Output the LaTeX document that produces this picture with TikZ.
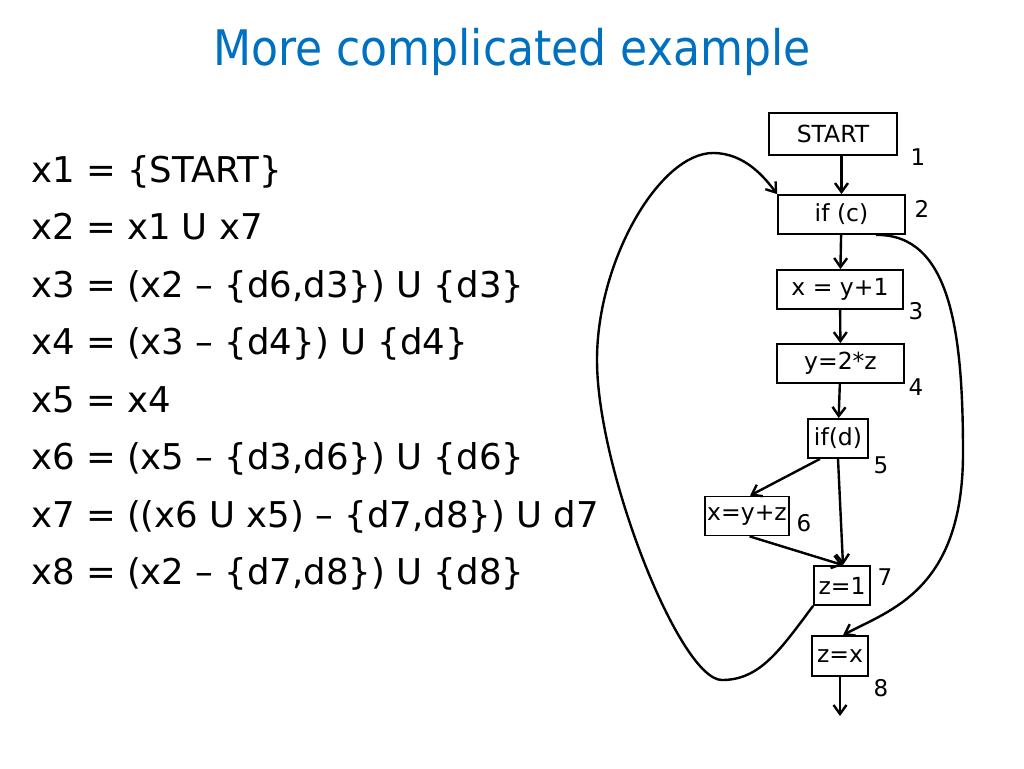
\documentclass[tikz,border=0pt]{standalone}
\usepackage{fontspec}
\setmainfont{DejaVu Sans}
\newfontfamily\condensedfont{DejaVu Sans Condensed}
\usetikzlibrary{arrows.meta}
\definecolor{titleblue}{RGB}{0,112,192}

\begin{document}
\begin{tikzpicture}[x=1pt, y=-1pt, >={Straight Barb[length=9pt,width=13pt]},
    line width=2.4pt,
    block/.style={draw, line width=1.8pt, rectangle, inner sep=2pt, minimum height=39pt, font=\fontsize{23.5}{25}\selectfont},
    num/.style={font=\fontsize{23}{25}\selectfont},
    eqn/.style={anchor=base west, inner sep=0pt, font=\fontsize{35.5}{38}\selectfont}]
    \useasboundingbox (0,0) rectangle (1024,768);

    % Title
    \node[text=titleblue, font=\condensedfont\fontsize{49}{52}\selectfont] (title) at (512,52) {More complicated example};

    % Data-flow equations
    \node[eqn] (e1) at (30,182) {x1 = \{START\}};
    \node[eqn] (e2) at (30,239.5) {x2 = x1 U x7};
    \node[eqn] (e3) at (30,297) {x3 = (x2 – \{d6,d3\}) U \{d3\}};
    \node[eqn] (e4) at (30,354.5) {x4 = (x3 – \{d4\}) U \{d4\}};
    \node[eqn] (e5) at (30,412) {x5 = x4};
    \node[eqn] (e6) at (30,469.5) {x6 = (x5 – \{d3,d6\}) U \{d6\}};
    \node[eqn] (e7) at (30,527) {x7 = ((x6 U x5) – \{d7,d8\}) U d7};
    \node[eqn] (e8) at (30,584.5) {x8 = (x2 – \{d7,d8\}) U \{d8\}};

    % Flow graph
    \node[block, minimum width=128pt, minimum height=42pt] (start) at (833,134) {START};
    \node[block, minimum width=127pt] (ifc) at (841.5,214.5) {if (c)};
    \node[block, minimum width=126pt] (xy1) at (840,289.5) {x = y+1};
    \node[block, minimum width=127pt] (y2z) at (840.5,363.5) {y=2*z};
    \node[block, minimum width=60pt] (ifd) at (838,438.5) {if(d)};
    \node[block, minimum width=82pt] (xyz) at (747,516) {x=y+z};
    \node[block, minimum width=56pt] (z1) at (842,585.5) {z=1};
    \node[block, minimum width=56pt, minimum height=40pt] (zx) at (840,656) {z=x};
    \coordinate (exit) at (840,716);

    \node[num] (n1) at (918,157) {1};
    \node[num] (n2) at (922,209) {2};
    \node[num] (n3) at (916,311) {3};
    \node[num] (n4) at (916,387) {4};
    \node[num] (n5) at (881,465) {5};
    \node[num] (n6) at (804,523) {6};
    \node[num] (n7) at (885,577) {7};
    \node[num] (n8) at (881,688) {8};

    \draw[->] (start.south -| ifc.north) -- (ifc.north);
    \draw[->] (ifc) -- (xy1);
    \draw[->] (xy1) -- (y2z);
    \draw[->] (y2z) -- (ifd);
    \draw[->] ([xshift=-18pt]ifd.south) -- ([xshift=3pt]xyz.north);
    \draw[->] (ifd.south) -- ([xshift=1pt]z1.north);
    \draw[->] ([xshift=-40pt]xyz.south east) -- ([xshift=1pt]z1.north);
    \draw[->] (zx) -- (exit);

    % back edge z=1 -> if (c)
    \draw[->] (z1.south west)
        .. controls (780,650) and (760,680) .. (722,680)
        .. controls (680,680) and (597,470) .. (597,360)
        .. controls (597,260) and (660,153) .. (713,153)
        .. controls (745,153) and (765,178) .. (ifc.north west);
    % if (c) -> z=x
    \draw[->] ([xshift=-30pt]ifc.south east)
        .. controls (950,234) and (963,330) .. (963,453)
        .. controls (963,590) and (890,610) .. ([xshift=3pt]zx.north);
\end{tikzpicture}
\end{document}
